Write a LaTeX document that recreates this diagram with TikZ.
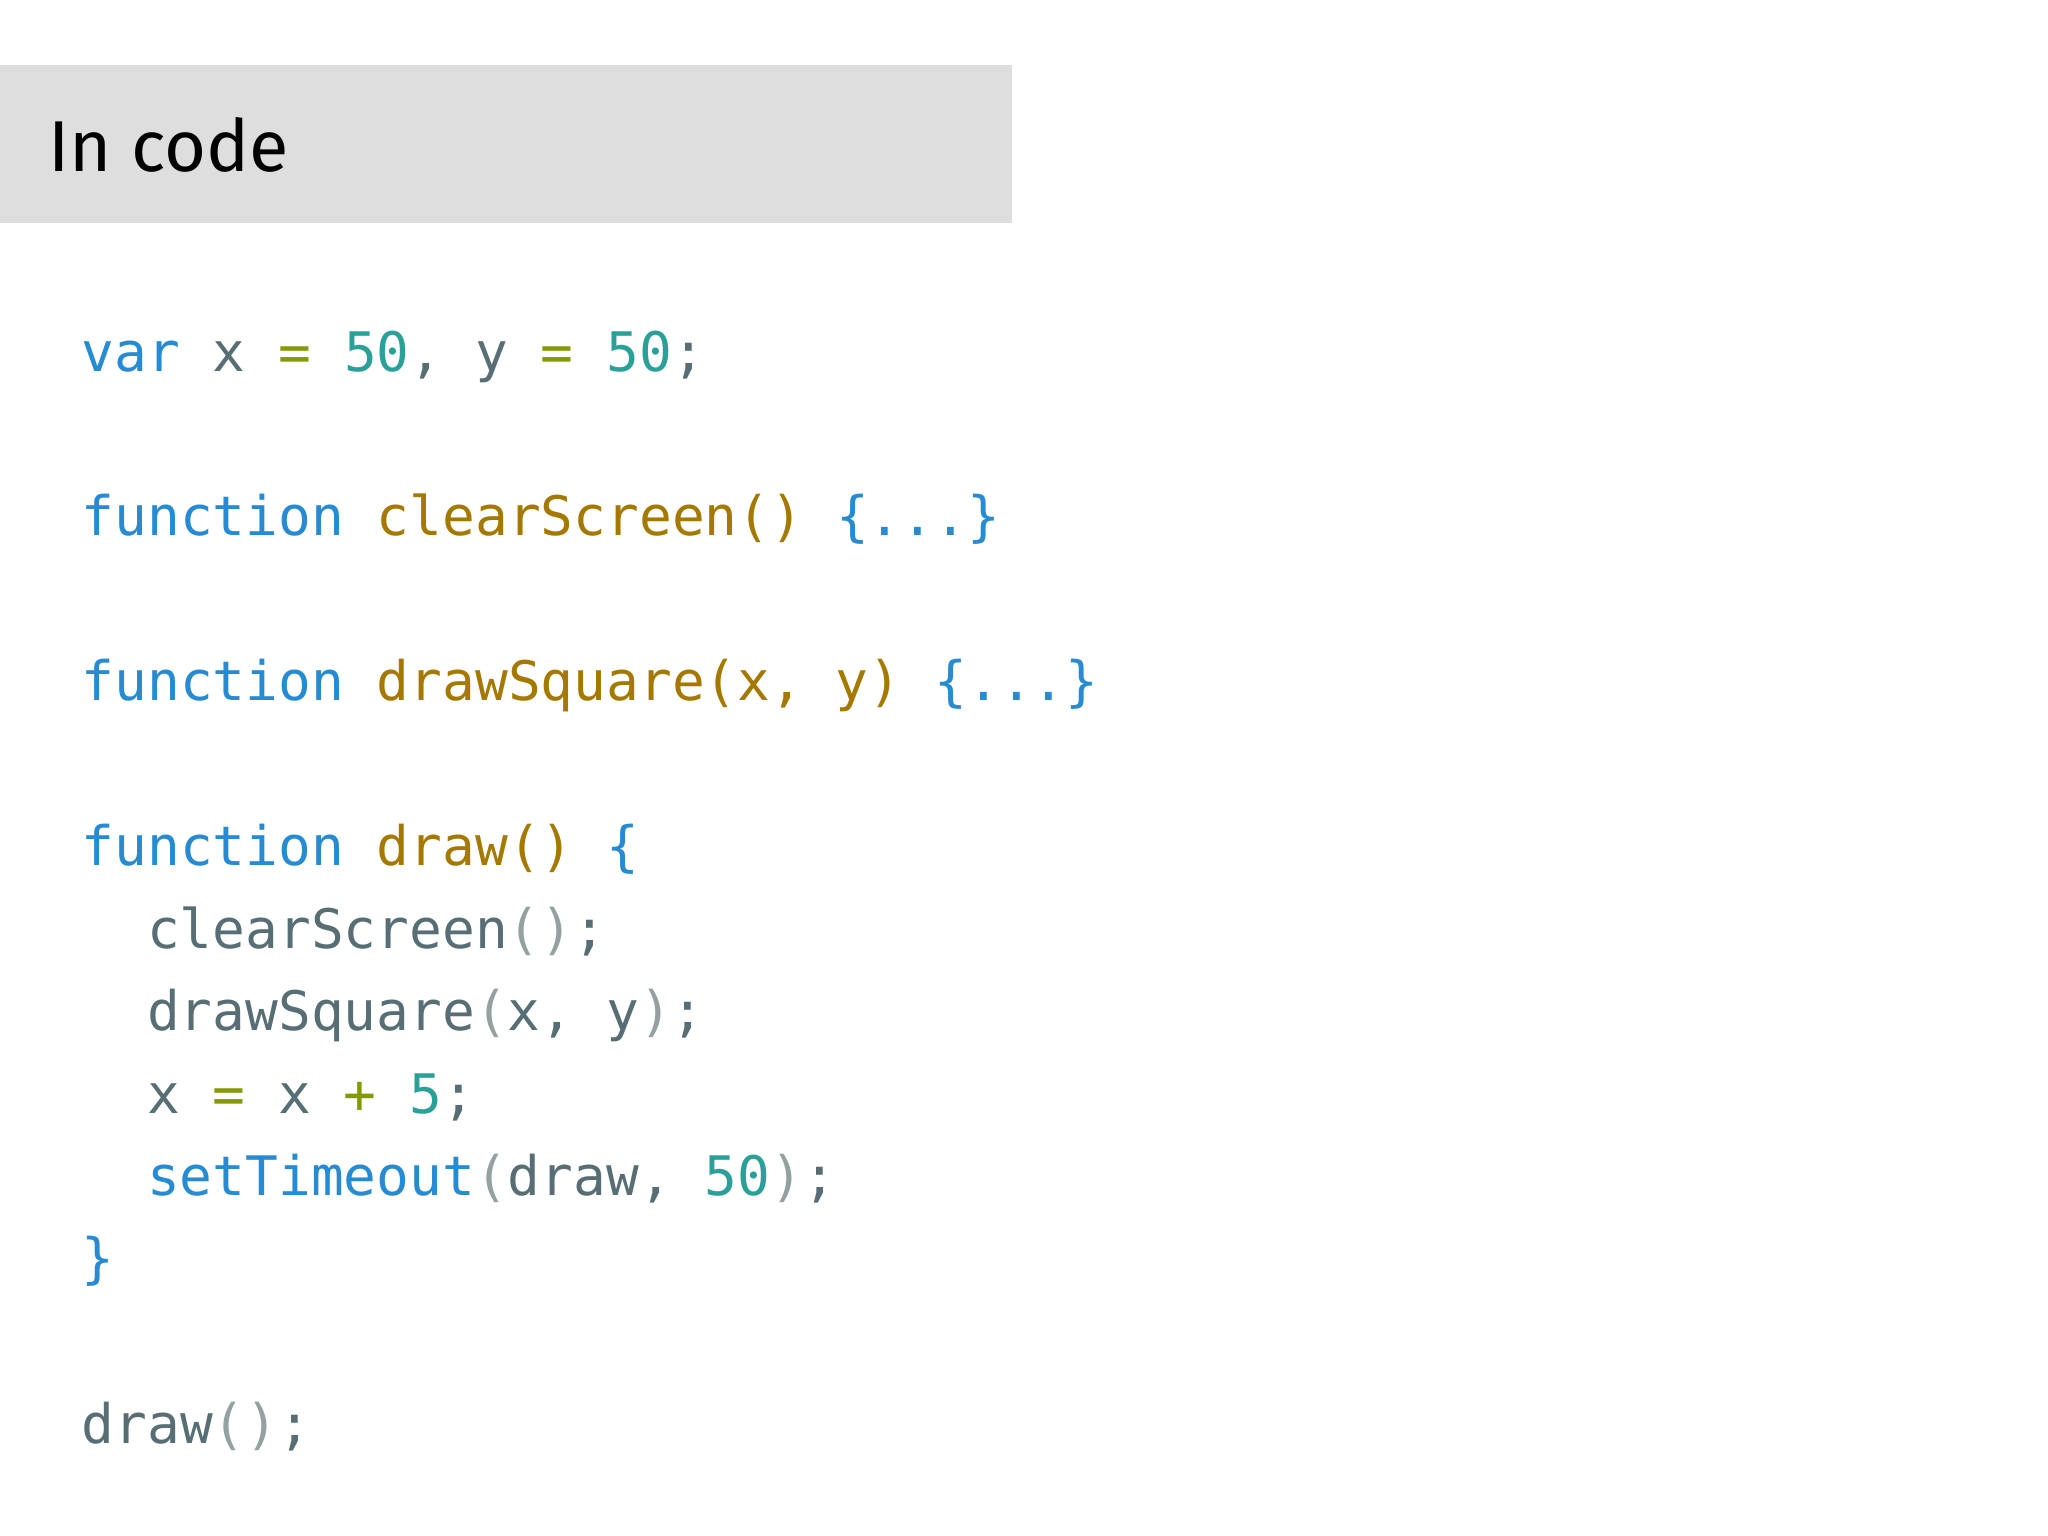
\documentclass[tikz,border=0pt]{standalone}
\usepackage{fontspec}
\setmainfont{Fira Sans}
\newfontfamily\codefont{DejaVu Sans Mono}[Scale=1]
\definecolor{kw}{HTML}{268BD2}
\definecolor{fn}{HTML}{A57800}
\definecolor{num}{HTML}{2AA198}
\definecolor{op}{HTML}{859900}
\definecolor{idt}{HTML}{586E75}
\definecolor{par}{HTML}{93A1A1}
\newcommand{\K}[1]{\textcolor{kw}{#1}}
\newcommand{\F}[1]{\textcolor{fn}{#1}}
\newcommand{\N}[1]{\textcolor{num}{#1}}
\newcommand{\Op}[1]{\textcolor{op}{#1}}
\newcommand{\I}[1]{\textcolor{idt}{#1}}
\newcommand{\Pa}[1]{\textcolor{par}{#1}}
\begin{document}
\begin{tikzpicture}[x=1cm,y=1cm,
  code/.style={anchor=base west,inner sep=0pt,font=\codefont\fontsize{15.5pt}{18pt}\selectfont,text=idt}]
\useasboundingbox (0,0) rectangle (20.48,-15.36);
\fill[white] (0,0) rectangle (20.48,-15.36);
\fill[black!13] (0,-0.65) rectangle (10.12,-2.23);
\node[anchor=base west,inner sep=0pt,font=\fontsize{20.5pt}{24pt}\selectfont] (title) at (0.48,-1.72) {In code};
\node[code] (l1) at (0.81,-3.72) {\K{var} \I{x} \Op{=} \N{50}\I{,} \I{y} \Op{=} \N{50}\I{;}};
\node[code] (l2) at (0.81,-5.35) {\K{function} \F{clearScreen()} \K{\{...\}}};
\node[code] (l3) at (0.81,-7.01) {\K{function} \F{drawSquare(x, y)} \K{\{...\}}};
\node[code] (l4) at (0.81,-8.66) {\K{function} \F{draw()} \K{\{}};
\node[code] (l5) at (1.465,-9.48) {\I{clearScreen}\Pa{()}\I{;}};
\node[code] (l6) at (1.465,-10.30) {\I{drawSquare}\Pa{(}\I{x,} \I{y}\Pa{)}\I{;}};
\node[code] (l7) at (1.465,-11.13) {\I{x} \Op{=} \I{x} \Op{+} \N{5}\I{;}};
\node[code] (l8) at (1.465,-11.95) {\K{setTimeout}\Pa{(}\I{draw,} \N{50}\Pa{)}\I{;}};
\node[code] (l9) at (0.81,-12.77) {\K{\}}};
\node[code] (l10) at (0.81,-14.43) {\I{draw}\Pa{()}\I{;}};
\end{tikzpicture}
\end{document}
